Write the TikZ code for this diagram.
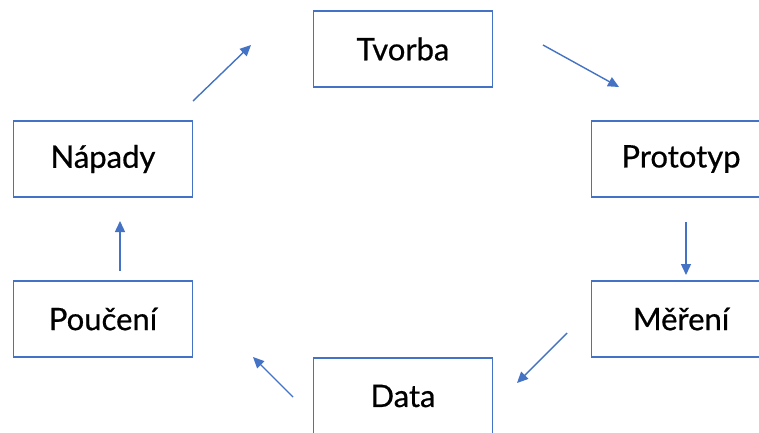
\documentclass[tikz,border=0pt]{standalone}
\usepackage{fontspec}
\setmainfont{Lato}
\newfontfamily\boxfont[FakeBold=0.6]{Lato}
\usetikzlibrary{arrows.meta}
\definecolor{obl}{HTML}{4472C4}
\tikzset{
  box/.style={draw=obl, line width=1.3pt, fill=white, minimum width=179pt, minimum height=76pt, inner sep=0pt, font=\boxfont\fontsize{31}{36}\selectfont, text=black},
  conn/.style={draw=obl, line width=1.4pt, -{Triangle[length=11pt,width=10pt]}}
}
\begin{document}
\begin{tikzpicture}[x=1pt,y=-1pt]
\useasboundingbox (0,0) rectangle (759,432);
\node[box] (tvorba) at (403,49) {Tvorba};
\node[box] (napady) at (103,159) {Nápady};
\node[box] (prototyp) at (681,159) {Prototyp};
\node[box] (pouceni) at (103,319) {Poučení};
\node[box] (mereni) at (681,319) {Měření};
\node[box] (data) at (403,396) {Data};
\coordinate (a1s) at (193,101); \coordinate (a1e) at (251,45);
\coordinate (a2s) at (543,45);  \coordinate (a2e) at (619,87);
\coordinate (a3s) at (686,222); \coordinate (a3e) at (686,275);
\coordinate (a4s) at (567,333); \coordinate (a4e) at (517,383);
\coordinate (a5s) at (293,397); \coordinate (a5e) at (253,357);
\coordinate (a6s) at (120,271); \coordinate (a6e) at (120,221);
\draw[conn] (a1s) -- (a1e);
\draw[conn] (a2s) -- (a2e);
\draw[conn] (a3s) -- (a3e);
\draw[conn] (a4s) -- (a4e);
\draw[conn] (a5s) -- (a5e);
\draw[conn] (a6s) -- (a6e);
\end{tikzpicture}
\end{document}
